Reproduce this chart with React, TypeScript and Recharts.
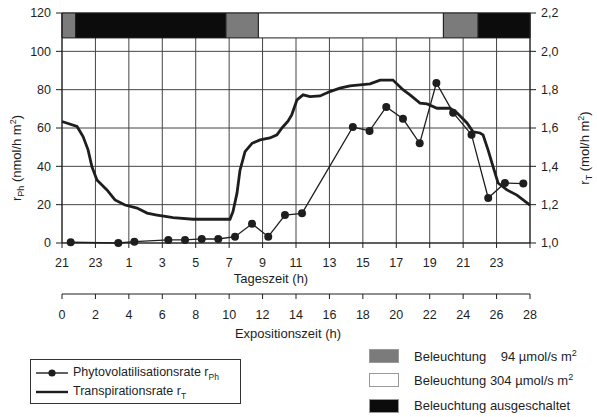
import React from 'react'
import { ComposedChart, Line, XAxis, YAxis, CartesianGrid, ReferenceArea, Legend } from 'recharts'

const FONT = '"Liberation Sans", Arial, Helvetica, sans-serif'
const INK = '#1e1e1e'

// exposure time grid (h) and the matching clock time labels
const hourTicks = [0, 2, 4, 6, 8, 10, 12, 14, 16, 18, 20, 22, 24, 26, 28]
const tageszeitLabels = ['21', '23', '1', '3', '5', '7', '9', '11', '13', '15', '17', '19', '21', '23', '']

const leftTicks = [0, 20, 40, 60, 80, 100, 120]
const rightTicks = [1.0, 1.2, 1.4, 1.6, 1.8, 2.0, 2.2]

// phytovolatilisation rate r_Ph (nmol/h m2)
const rPhHours = [0.52, 3.37, 4.33, 6.36, 7.36, 8.36, 9.35, 10.35, 11.37, 12.34, 13.34, 14.36,
  17.4, 18.4, 19.4, 20.4, 21.4, 22.4, 23.4, 24.5, 25.5, 26.5, 27.6]
const rPhValues = [0.4, 0, 0.7, 1.6, 1.6, 2.1, 2.1, 3.3, 10, 3.3, 14.6, 15.5,
  60.5, 58.5, 71, 64.8, 52, 83.5, 68, 56.5, 23.5, 31.3, 31]

// transpiration rate r_T (mol/h m2)
const rTHours = [0, 0.9, 1.26, 1.56, 1.79, 2.09, 2.69, 3.17, 3.77, 4.49, 5.09, 5.68, 6.28, 6.64, 7.84,
  10.05, 10.23, 10.47, 10.65, 10.95, 11.37, 11.85, 12.44, 12.86, 13.16, 13.52, 13.75, 14.06, 14.42,
  14.84, 15.44, 16.03, 16.63, 17.23, 17.83, 18.43, 19.03, 19.8, 20.4, 20.82, 21.42, 21.84, 22.44,
  23.21, 23.63, 24.23, 24.59, 25.01, 25.19, 25.49, 25.79, 26.09, 26.62, 27.22, 28]
const rTValues = [1.634, 1.608, 1.555, 1.486, 1.398, 1.329, 1.277, 1.225, 1.198, 1.182, 1.156, 1.146,
  1.137, 1.132, 1.124, 1.124, 1.164, 1.26, 1.38, 1.477, 1.52, 1.538, 1.548, 1.564, 1.6, 1.635, 1.67,
  1.747, 1.773, 1.764, 1.767, 1.79, 1.808, 1.82, 1.825, 1.83, 1.85, 1.85, 1.8, 1.773, 1.73, 1.726,
  1.703, 1.703, 1.679, 1.626, 1.58, 1.574, 1.564, 1.486, 1.398, 1.313, 1.277, 1.25, 1.198]

// lighting phases along the top of the plot
const lightFrom = [0, 0.82, 9.81, 11.75, 22.82, 24.9]
const lightTo = [0.82, 9.81, 11.75, 22.82, 24.9, 28]
const lightLevel = ['dim', 'off', 'dim', 'bright', 'dim', 'off']
const lightColor: Record<string, string> = { dim: '#7b7b7b', bright: '#ffffff', off: '#0c0c0c' }
const BAND_LOW = 107

const phData = rPhHours.map((t, i) => ({ t, v: rPhValues[i] }))
const tData = rTHours.map((t, i) => ({ t, v: rTValues[i] }))

const tickStyle = { fontSize: 12.5, fill: INK, fontFamily: FONT }

function VTitle({ px, py, main, sub, unit }: any) {
  return (
    <text x={px} y={py} transform={`rotate(-90 ${px} ${py})`} textAnchor="middle"
      fontSize={13} fill={INK} fontFamily={FONT}>
      {main}
      <tspan fontSize={9} dy={3}>{sub}</tspan>
      <tspan dy={-3}>{`  (${unit}`}</tspan>
      <tspan fontSize={9} dy={-5}>2</tspan>
      <tspan dy={5}>)</tspan>
    </text>
  )
}

function HTitle({ px, py, text }: any) {
  return (
    <text x={px} y={py} textAnchor="middle" fontSize={13} fill={INK} fontFamily={FONT}>{text}</text>
  )
}

function LegendPanel() {
  const rows = [
    { level: 'dim', text: 'Beleuchtung \u2007 94 \u00b5mol/s m', sup: '2' },
    { level: 'bright', text: 'Beleuchtung 304 \u00b5mol/s m', sup: '2' },
    { level: 'off', text: 'Beleuchtung ausgeschaltet', sup: '' },
  ]
  const swatchTop = [8, 32, 58]
  return (
    <div style={{ position: 'relative', width: 597, height: 77, fontFamily: FONT, color: INK }}>
      <div style={{ position: 'absolute', left: 30, top: 19, width: 209, height: 43, border: '1px solid #333' }}>
        <div style={{ position: 'absolute', left: 4, top: 5, display: 'flex', alignItems: 'center', fontSize: 12.5 }}>
          <svg width={34} height={10}>
            <line x1={1} y1={5} x2={33} y2={5} stroke={INK} strokeWidth={1.4} />
            <circle cx={17} cy={5} r={3.6} fill={INK} />
          </svg>
          <span style={{ marginLeft: 4 }}>Phytovolatilisationsrate r<sub style={{ fontSize: 8.5 }}>Ph</sub></span>
        </div>
        <div style={{ position: 'absolute', left: 4, top: 24, display: 'flex', alignItems: 'center', fontSize: 12.5 }}>
          <svg width={34} height={10}>
            <line x1={1} y1={5} x2={33} y2={5} stroke={INK} strokeWidth={2.4} />
          </svg>
          <span style={{ marginLeft: 4 }}>Transpirationsrate r<sub style={{ fontSize: 8.5 }}>T</sub></span>
        </div>
      </div>
      {rows.map((r, i) => (
        <div key={r.level} style={{ position: 'absolute', left: 369, top: swatchTop[i], display: 'flex', alignItems: 'center' }}>
          <div style={{ width: 30, height: 14, background: lightColor[r.level], border: '1px solid #999', boxSizing: 'border-box' }} />
          <span style={{ marginLeft: 15, fontSize: 13, whiteSpace: 'pre' }}>
            {r.text}{r.sup && <sup style={{ fontSize: 9 }}>{r.sup}</sup>}
          </span>
        </div>
      ))}
    </div>
  )
}

export default function App() {
  return (
    <div style={{ position: 'absolute', left: 0, top: 0, background: '#fff' }}>
      <ComposedChart width={597} height={417} margin={{ top: 13, right: 12, bottom: 73, left: 12 }}>
        <CartesianGrid xAxisId="a" yAxisId="l" stroke="#444" strokeWidth={1}
          horizontalValues={leftTicks} verticalValues={hourTicks} />
        <XAxis xAxisId="a" dataKey="t" type="number" domain={[0, 28]} ticks={hourTicks} interval={0}
          height={51} tickSize={5} tickMargin={10} stroke={INK} tick={tickStyle}
          tickFormatter={(v: number) => tageszeitLabels[hourTicks.indexOf(v)] ?? ''}
          label={<HTitle px={271} py={283} text="Tageszeit (h)" />} />
        <XAxis xAxisId="b" dataKey="t" type="number" domain={[0, 28]} ticks={hourTicks} interval={0}
          height={50} tickSize={5} tickMargin={11} stroke={INK} tick={tickStyle}
          label={<HTitle px={288} py={338} text="Expositionszeit (h)" />} />
        <YAxis yAxisId="l" domain={[0, 120]} ticks={leftTicks} width={50} tickSize={6} tickMargin={5}
          stroke={INK} tick={tickStyle}
          label={<VTitle px={21} py={158} main="r" sub="Ph" unit="nmol/h m" />} />
        <YAxis yAxisId="r" orientation="right" domain={[1, 2.2]} ticks={rightTicks} width={55}
          tickSize={6} tickMargin={5} stroke={INK} tick={tickStyle}
          tickFormatter={(v: number) => v.toFixed(1).replace('.', ',')}
          label={<VTitle px={589} py={148} main="r" sub="T" unit="mol/h m" />} />
        {lightFrom.map((x1, i) => (
          <ReferenceArea key={i} xAxisId="a" yAxisId="l" x1={x1} x2={lightTo[i]} y1={BAND_LOW} y2={120}
            fill={lightColor[lightLevel[i]]} fillOpacity={1} stroke={INK} strokeWidth={1} />
        ))}
        <Line xAxisId="b" yAxisId="r" data={tData} dataKey="v" type="linear" stroke={INK}
          strokeWidth={2.8} dot={false} isAnimationActive={false} />
        <Line xAxisId="a" yAxisId="l" data={phData} dataKey="v" type="linear" stroke={INK}
          strokeWidth={1.3} dot={{ r: 4, fill: INK, stroke: INK, strokeWidth: 0 }} isAnimationActive={false} />
        <Legend layout="vertical" align="center" verticalAlign="middle" content={() => <LegendPanel />}
          wrapperStyle={{ left: 0, top: 340, width: 597, height: 77 }} />
      </ComposedChart>
    </div>
  )
}
